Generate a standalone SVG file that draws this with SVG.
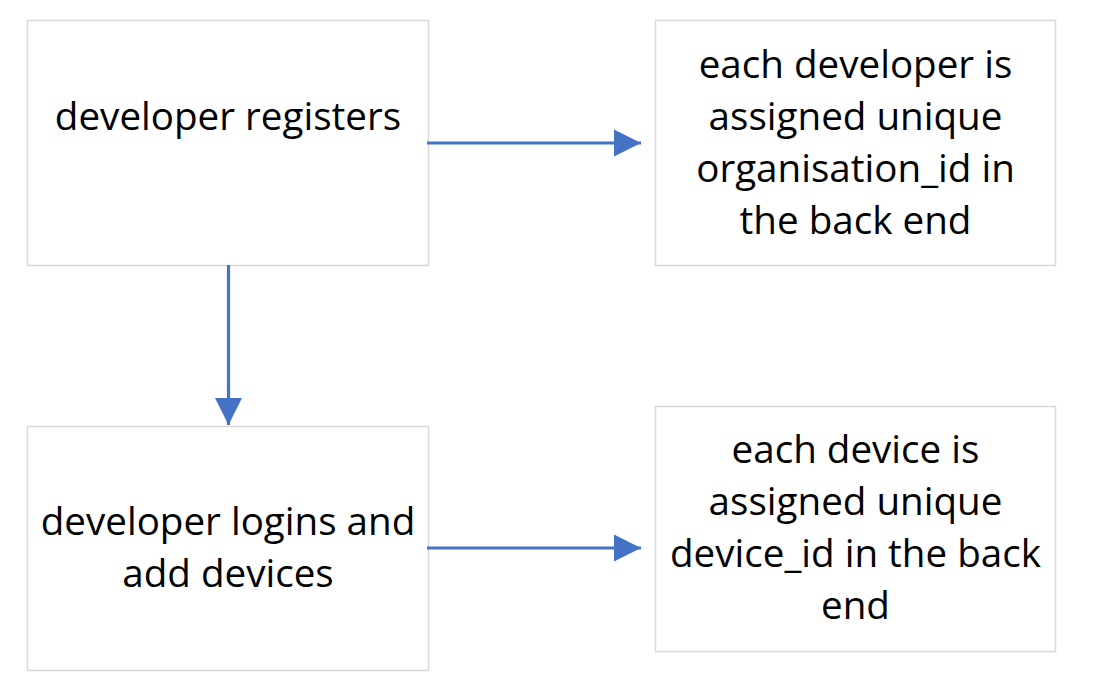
<svg xmlns="http://www.w3.org/2000/svg" width="1095" height="693" viewBox="0 0 1095 693">
<style>
.box{fill:#fff;stroke:#D9D9D9;stroke-width:1.5}
.t{font-family:"Open Sans","Liberation Sans",sans-serif;font-size:38.6px;fill:#000;text-anchor:middle}
.c{stroke:#4472C4;stroke-width:3.2;fill:none}
</style>
<defs>
<marker id="ah" markerUnits="userSpaceOnUse" markerWidth="28" markerHeight="28" viewBox="0 0 28 28" refX="27" refY="14" orient="auto">
<path d="M0,0.5 L27,14 L0,27.5 Z" fill="#4472C4"/>
</marker>
</defs>
<rect width="1095" height="693" fill="#fff"/>
<g id="n1">
<rect class="box" x="27.5" y="20.5" width="401" height="245"/>
<text class="t" x="228" y="130">developer registers</text>
</g>
<g id="n2">
<rect class="box" x="655.5" y="20.5" width="400" height="245"/>
<text class="t" x="855.5" y="78">each developer is</text>
<text class="t" x="855.5" y="130">assigned unique</text>
<text class="t" x="855.5" y="182">organisation_id in</text>
<text class="t" x="855.5" y="234">the back end</text>
</g>
<g id="n3">
<rect class="box" x="27.5" y="426.5" width="401" height="244"/>
<text class="t" x="228" y="535">developer logins and</text>
<text class="t" x="228" y="587">add devices</text>
</g>
<g id="n4">
<rect class="box" x="655.5" y="406.5" width="400" height="245"/>
<text class="t" x="855.5" y="463">each device is</text>
<text class="t" x="855.5" y="515">assigned unique</text>
<text class="t" x="855.5" y="567">device_id in the back</text>
<text class="t" x="855.5" y="619">end</text>
</g>
<g id="connectors">
<line class="c" x1="427" y1="143" x2="641" y2="143" marker-end="url(#ah)"/>
<line class="c" x1="228.5" y1="265" x2="228.5" y2="425" marker-end="url(#ah)"/>
<line class="c" x1="427" y1="548" x2="641" y2="548" marker-end="url(#ah)"/>
</g>
</svg>
